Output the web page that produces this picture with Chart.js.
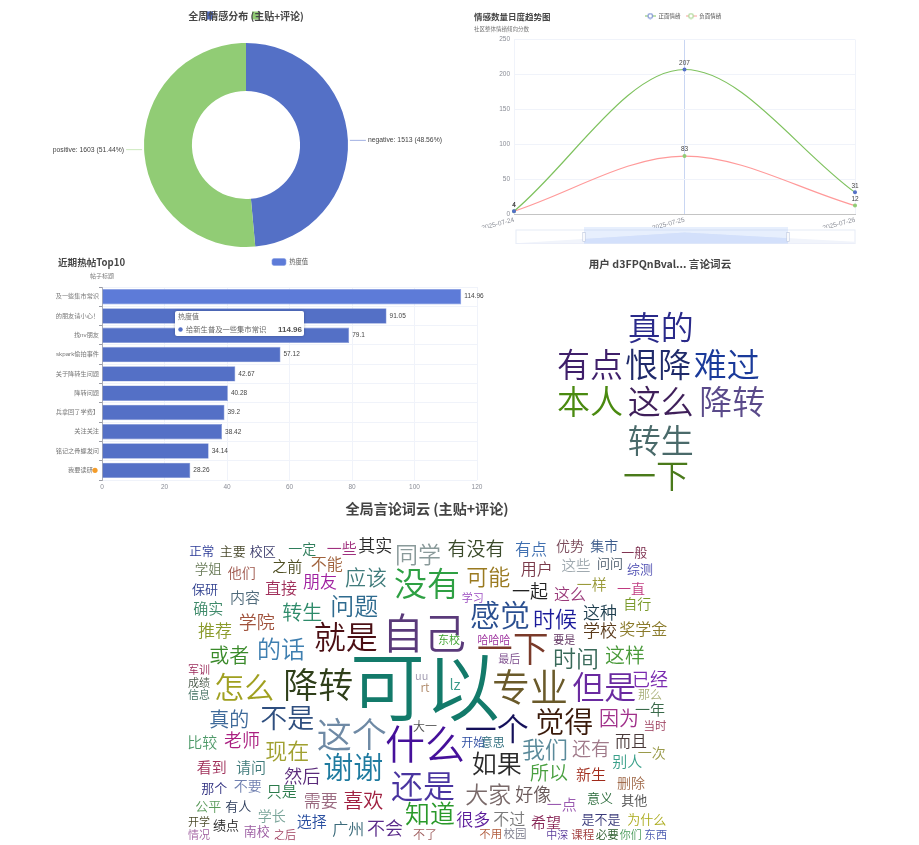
<!DOCTYPE html>
<html lang="zh">
<head>
<meta charset="utf-8">
<title>社区情感看板</title>
<script src="https://cdn.jsdelivr.net/npm/chart.js@4/dist/chart.umd.min.js"></script>
<style>
  html, body { margin: 0; padding: 0; background: #fff; width: 919px; height: 845px; overflow: hidden; }
  canvas { position: absolute; }
  .soft { filter: blur(0.5px); }
  .cloud { filter: blur(0.25px); }
</style>
</head>
<body>
<canvas id="pie" class="soft" width="400" height="258" style="left:46px;top:10px"></canvas>
<canvas id="trend" class="soft" width="418" height="247" style="left:474px;top:0"></canvas>
<canvas id="bars" class="soft" width="470" height="252" style="left:55px;top:243px"></canvas>
<canvas id="userCloud" class="cloud" width="260" height="242" style="left:530px;top:258px"></canvas>
<canvas id="globalCloud" class="cloud" width="526" height="345" style="left:164px;top:500px"></canvas>
<script>
const CJK = '"Noto Sans CJK SC", "Noto Sans", sans-serif';
const FONT = '"Liberation Sans", ' + CJK;
Chart.defaults.font.family = FONT;
Chart.defaults.animation = false;

// 情感分布
const sentimentNames = ['negative', 'positive'];
const sentimentCounts = [1513, 1603];
const sentimentPercents = ['48.56%', '51.44%'];

// 日度趋势
const trendDays = ['2025-07-24', '2025-07-25', '2025-07-26'];
const positiveDaily = [4, 207, 31];
const negativeDaily = [4, 83, 12];

// 热帖
const postTitles = ['给新生普及一些集市常识', '的朋友请小心！', '找nv朋友', 'skpark偷拍事件', '关于降转生问题', '降转问题', '兵拿回了学费】', '关注关注', '铭记之骨螺发问', '我要读研　'];
const postHeat = [114.96, 91.05, 79.1, 57.12, 42.67, 40.28, 39.2, 38.42, 34.14, 28.26];

// 用户词云
const userWords = ['真的', '有点', '恨降', '难过', '本人', '这么', '降转', '转生', '一下'];
const userWeights = [33, 33, 33, 33, 33, 33, 33, 33, 33];

// 全局词云
const globalWords = ['可以', '自己', '什么', '专业', '一下', '降转', '这个', '就是', '没有', '但是', '还是', '一个', '感觉', '怎么', '谢谢', '觉得', '不是', '知道', '如果', '问题', '的话', '同学', '时间', '我们', '大家', '现在', '时候', '可能', '应该', '或者', '转生', '真的', '因为', '这样', '喜欢', '有没有', '还有', '所以', '其实', '已经', '一起', '老师', '学院', '然后', '好像', '推荐', '需要', '朋友', '很多', '这种', '学校', '奖学金', '直接', '有点', '用户', '不过', '不能', '而且', '不会', '这么', '广州', '内容', '确实', '选择', '一样', '一点', '比较', '别人', '只是', '新生', '看到', '请问', '之前', '一定', '一些', '这些', '一年', '希望', '一次', '删除', '一直', '自行', '他们', 'lz', '学姐', '主要', '校区', '不要', '优势', '集市', '学长', '意义', '其他', '问问', '综测', '一般', '那个', '公平', '有人', '保研', '正常', '绩点', '南校', '是不是', '为什么', '开始', '意思', '那么', '当时', '不了', '大一', 'rt', 'uu', '军训', '成绩', '信息', '开学', '情况', '之后', '学习', '东校', '哈哈哈', '要是', '最后', '不用', '校园', '中深', '课程', '必要', '你们', '东西'];
const globalWeights = [75, 42, 40, 38, 36, 35, 35, 32, 33, 32, 32, 32, 30, 30, 30, 29, 27, 25, 25, 24, 24, 23, 23, 23, 23, 22, 22, 22, 21, 20, 20, 20, 20, 20, 20, 19, 19, 19, 17, 18, 18, 18, 18, 18, 18, 17, 17, 17, 17, 17, 17, 16, 16, 16, 16, 16, 16, 16, 18, 16, 16, 15, 15, 15, 15, 15, 15, 15, 15, 15, 15, 15, 15, 14, 15, 14.5, 15, 15, 14, 14, 14, 14, 14, 15, 13.5, 13, 13, 14, 14, 14, 14, 13, 13, 13, 13, 13, 13, 13, 13, 13, 12.5, 13, 13, 13, 13, 12, 12, 12, 11.5, 12, 12, 12, 11, 11, 11, 11, 11, 11, 11, 11, 11, 11, 11, 11, 11.5, 11.5, 11, 11.5, 11.5, 11, 11.5];

// 词云版面 (x, y 是页面坐标)
const userSpots = [[660.7, 329.3], [590, 366], [658.3, 366], [726.7, 366], [590, 403.3], [660.7, 403.3], [732.3, 403.3], [660.7, 441.7], [656, 476.7]];
const userInks = ['#2a2a8a', '#3f1f6a', '#1f2a6a', '#1a3a9a', '#4a8a10', '#3f1f5a', '#5a4a8a', '#4a6a6a', '#4a7a1a'];
const globalSpots = [[425, 690], [424, 635], [425, 746], [530, 688.3], [512.7, 650], [318.3, 686.7], [351.7, 736.7], [345.7, 638.3], [427, 585], [604.3, 688.3], [423, 787], [496.7, 730], [500, 616], [244.3, 688.3], [353.3, 768.3], [564.3, 723.3], [287.3, 719.3], [430, 815], [496.7, 765], [354.3, 607.3], [281, 650], [418, 555], [576, 659.3], [545, 750], [488.3, 795.7], [287.3, 751.7], [555, 619.3], [488.3, 577.3], [366, 577.7], [229.3, 656], [302.3, 613.3], [229.3, 720], [619, 719.3], [625, 656], [363.3, 801.7], [476, 549.3], [591, 750], [549, 773.3], [375.3, 546], [650, 680], [530, 591.7], [242, 740.7], [256.7, 622.7], [302.3, 776.7], [533.3, 795], [215, 631], [320.7, 801.7], [320, 582.3], [473.3, 820], [600, 613.3], [600, 631.7], [643.3, 629.3], [281, 588.3], [531, 549.3], [536.7, 570], [509.3, 820], [326.7, 564.3], [631, 741.7], [385, 829], [570, 595], [348.3, 830], [245, 598.3], [208.3, 609.3], [311.7, 822.3], [591.7, 585], [561.7, 805], [202.3, 743.3], [627.3, 762.3], [281.7, 792.3], [591, 775], [211.7, 768.3], [251, 768.3], [287.3, 567.3], [302.3, 549.3], [341.7, 549.3], [576, 566.7], [650, 710], [546, 822.7], [651.7, 753.3], [631, 783.3], [631, 589.3], [637.3, 604], [241.7, 573.3], [455, 685], [208.3, 570], [232.7, 551.7], [262.7, 551.7], [247.7, 786.7], [570, 546], [604.3, 546], [271.7, 816.7], [600, 798.3], [634.3, 800.7], [610, 563.3], [640, 569.3], [634.3, 552.7], [214.3, 788.3], [208.3, 806.7], [238.3, 806.7], [205, 589.3], [201.7, 551.7], [226, 825.7], [256.7, 831.7], [601, 819.3], [646.7, 819.3], [473.3, 743.3], [492.7, 743.3], [650, 695], [655, 725.7], [425, 835], [425, 726.7], [425, 688], [421.7, 676.7], [199, 670.7], [199, 683.3], [199, 695], [199, 822.7], [199, 835], [285, 835], [472.7, 598.3], [449, 640.7], [494, 640.7], [564.3, 640], [509.3, 659], [490.7, 834.3], [515, 834.3], [557.3, 835], [582.7, 835], [607.3, 835], [630.7, 835], [655.7, 835]];
const globalInks = ['#137a6a', '#5a3a7a', '#45109a', '#6a5a2a', '#7a3a2a', '#2f3f1a', '#6f8aa5', '#4b0f14', '#2ea043', '#6a2aa0', '#4a35a0', '#14105a', '#2a4f90', '#a0a020', '#1f7ba0', '#3a1a0a', '#2f4f7f', '#2a9a2a', '#2a2a2a', '#2f6b8f', '#3f7fb0', '#8a9a9a', '#3a6a5a', '#5a8a9a', '#7a6a6a', '#a0a030', '#1a1a9a', '#9a7a20', '#3f7b7b', '#3a8a2a', '#2e8b6a', '#3f6a9a', '#a0308a', '#4a9a3a', '#a02040', '#3a4a2a', '#a07a8a', '#4aa040', '#2b2b2b', '#7a2ab0', '#222222', '#aa1f80', '#a0523c', '#5a2a7a', '#6a5a5a', '#8a9a2a', '#9a6a80', '#a020a0', '#5a1a9a', '#1f3f4f', '#5a3a1a', '#8a7a2a', '#a02f5a', '#3f6fb0', '#7a3a4a', '#7a7a7a', '#a0623c', '#4a3a3a', '#5a2a8a', '#9a3a7a', '#3a6a7a', '#4f6a7a', '#3f8a6a', '#2a4fa0', '#9a9a3a', '#9a5ab0', '#4f9a6a', '#3aa08a', '#2a7a4a', '#a02a1a', '#a0305a', '#3f7a7a', '#4e4e22', '#2e7d5b', '#a0307e', '#a0aab0', '#3a6a4a', '#8a2a5a', '#9a9a4a', '#a06a4a', '#c03a80', '#7a9a2a', '#a0594e', '#3a9a8a', '#6b7c5a', '#4a4a2e', '#3b3b6b', '#7080b0', '#7a4a5a', '#3a5a8a', '#7aa59a', '#2a6a3a', '#4a4a4a', '#4a5a6a', '#4a4ab0', '#7a2a4a', '#303080', '#5a9a5a', '#2a3a5a', '#2f3f8f', '#2b3a96', '#222222', '#9a5aa0', '#3a3a7a', '#aaaa1a', '#2a4aa0', '#2a6a7a', '#aab07a', '#9a3a5a', '#a06060', '#555555', '#b08a6a', '#a09ab0', '#9a2a5a', '#4a5a4a', '#3a6a5a', '#4a4a2a', '#a060a0', '#a04060', '#9a4ac0', '#3aa02a', '#9a2a9a', '#5a2a5a', '#7a4a8a', '#b05a3a', '#7a7a8a', '#5a3a9a', '#a03a3a', '#2a5a2a', '#4a9a5a', '#4a5ab0'];

const BLUE = '#5470c6';
const GREEN = '#91cc75';
const GRID = '#f0f3fa';

function text(ctx, str, x, y, font, color, align, family) {
  ctx.font = font + ' ' + (family || FONT);
  ctx.fillStyle = color;
  ctx.textAlign = align || 'left';
  ctx.textBaseline = 'middle';
  ctx.fillText(str, x, y);
}

// move title, subtitle and legend out of the stacked layout, like the free positioned original
function nudge(spots) {
  return {
    id: 'nudge',
    afterLayout(chart) {
      if (spots.title && chart.titleBlock) {
        chart.titleBlock.left = spots.title[0];
        chart.titleBlock.top = spots.title[1];
      }
      if (spots.subtitle) {
        const sub = chart.boxes.find(b => b.options && b.options.text === spots.subtitle[2]);
        if (sub) { sub.left = spots.subtitle[0]; sub.top = spots.subtitle[1]; }
      }
      if (spots.legendTop !== undefined) {
        chart.legend.top = spots.legendTop;
        chart.legend.left = 0;
        chart.legend.right = chart.width;
      }
    }
  };
}

// doughnut -----------------------------------------------------------------
const sliceLabels = {
  id: 'sliceLabels',
  beforeDraw(chart) {
    // legend swatches sit under the title in the original
    const ctx = chart.ctx;
    ctx.fillStyle = BLUE;
    ctx.fillRect(161, 1.5, 6, 8);
    ctx.fillStyle = GREEN;
    ctx.fillRect(206, 1.5, 7, 8);
  },
  afterDatasetsDraw(chart) {
    const ctx = chart.ctx;
    chart.getDatasetMeta(0).data.forEach((arc, i) => {
      const mid = (arc.startAngle + arc.endAngle) / 2;
      const y = arc.y + Math.sin(mid) * arc.outerRadius;
      const side = Math.cos(mid) >= 0 ? 1 : -1;
      const x0 = arc.x + side * (Math.abs(Math.cos(mid)) * arc.outerRadius + 2);
      const x1 = x0 + side * 16;
      ctx.strokeStyle = i === 0 ? '#8a9cdb' : '#bfe3ad';
      ctx.lineWidth = 0.8;
      ctx.beginPath();
      ctx.moveTo(x0, y);
      ctx.lineTo(x1, y);
      ctx.stroke();
      const label = sentimentNames[i] + ': ' + sentimentCounts[i] + ' (' + sentimentPercents[i] + ')';
      text(ctx, label, x1 + side * 2, y, '6.8px', '#444', side > 0 ? 'left' : 'right');
    });
  }
};

new Chart(document.getElementById('pie'), {
  type: 'doughnut',
  data: {
    labels: sentimentNames,
    datasets: [{ data: sentimentCounts, backgroundColor: [BLUE, GREEN], borderWidth: 0 }]
  },
  options: {
    responsive: false,
    radius: 102,
    cutout: '53%',
    plugins: {
      legend: { display: false },
      tooltip: { enabled: false },
      title: { display: true, text: '全周情感分布 (主贴+评论)', color: '#464646', padding: 0, font: { family: CJK, size: 10, weight: 'bold' } }
    }
  },
  plugins: [sliceLabels]
});

// trend --------------------------------------------------------------------
function legendMark(line, dot) {
  const c = document.createElement('canvas');
  c.width = 11;
  c.height = 7;
  const g = c.getContext('2d');
  g.strokeStyle = line;
  g.lineWidth = 1;
  g.beginPath();
  g.moveTo(0, 3.5);
  g.lineTo(11, 3.5);
  g.stroke();
  g.fillStyle = '#fff';
  g.strokeStyle = dot;
  g.beginPath();
  g.arc(5.5, 3.5, 2.4, 0, Math.PI * 2);
  g.fill();
  g.stroke();
  return c;
}

const trendExtras = {
  id: 'trendExtras',
  afterDatasetsDraw(chart) {
    const ctx = chart.ctx;
    chart.data.datasets.forEach((ds, d) => {
      chart.getDatasetMeta(d).data.forEach((pt, i) => {
        text(ctx, String(ds.data[i]), pt.x, pt.y - 6.5, '6.5px', '#444', 'center');
      });
    });
    // data zoom slider under the axis
    const x = chart.scales.x;
    const top = 230, bottom = 243.5;
    const from = 584, to = 788;
    ctx.save();
    ctx.strokeStyle = '#e6ebf6';
    ctx.lineWidth = 1;
    ctx.strokeRect(x.left + 2, top, x.right - x.left - 2, bottom - top);
    const shadow = () => {
      ctx.beginPath();
      ctx.moveTo(x.left + 2, bottom);
      positiveDaily.forEach((v, i) => ctx.lineTo(Math.max(x.getPixelForValue(i), x.left + 2), bottom - v * 0.053));
      ctx.lineTo(x.right, bottom);
      ctx.closePath();
    };
    shadow();
    ctx.fillStyle = '#f1f4fb';
    ctx.fill();
    ctx.fillStyle = 'rgba(135,175,245,0.2)';
    ctx.fillRect(from - 474, 227, to - from, bottom - 227);
    ctx.beginPath();
    ctx.rect(from - 474, 227, to - from, bottom - 227);
    ctx.clip();
    shadow();
    ctx.fillStyle = '#d3e0fb';
    ctx.fill();
    ctx.restore();
    [from, to].forEach(h => {
      ctx.fillStyle = '#fff';
      ctx.strokeStyle = '#b9c4dc';
      ctx.lineWidth = 0.6;
      ctx.fillRect(h - 474 - 1.2, 232.5, 2.4, 9);
      ctx.strokeRect(h - 474 - 1.2, 232.5, 2.4, 9);
    });
  }
};

const marks = [legendMark('#7fc25f', BLUE), legendMark('#ff9a9a', GREEN)];

new Chart(document.getElementById('trend'), {
  type: 'line',
  data: {
    labels: trendDays,
    datasets: [
      { label: '正面情绪', data: positiveDaily, borderColor: '#7fc25f', backgroundColor: BLUE, pointBackgroundColor: BLUE, pointBorderColor: BLUE, borderWidth: 1.2, pointRadius: 1.4, cubicInterpolationMode: 'monotone' },
      { label: '负面情绪', data: negativeDaily, borderColor: '#ff9a9a', backgroundColor: GREEN, pointBackgroundColor: GREEN, pointBorderColor: GREEN, borderWidth: 1.2, pointRadius: 1.4, cubicInterpolationMode: 'monotone' }
    ]
  },
  options: {
    responsive: false,
    layout: { autoPadding: false, padding: { top: 2.2, right: 37, bottom: 19, left: 0 } },
    scales: {
      x: {
        afterFit(s) { s.height = 14; },
        grid: { color: c => (c.index === 1 ? '#c9d6f2' : GRID), drawTicks: false },
        border: { color: '#c4c4c4', width: 1 },
        ticks: { color: '#8a8d96', font: { size: 6.5 }, minRotation: 15, maxRotation: 15, padding: 2 }
      },
      y: {
        min: 0,
        max: 250,
        afterFit(s) { s.width = 40; },
        grid: { color: GRID, drawTicks: false },
        border: { display: false },
        ticks: { stepSize: 50, color: '#8a8d96', font: { size: 6.5 }, padding: 4 }
      }
    },
    plugins: {
      tooltip: { enabled: false },
      title: { display: true, align: 'start', text: '情感数量日度趋势图', color: '#464646', padding: 0, font: { family: CJK, size: 8.5, weight: 'bold' } },
      subtitle: { display: true, align: 'start', text: '社区整体情绪倾向分数', color: '#777', padding: 0, font: { size: 5.5 } },
      legend: {
        labels: {
          usePointStyle: true,
          pointStyleWidth: 11,
          padding: 5,
          color: '#555',
          font: { size: 5.5 },
          generateLabels: chart => chart.data.datasets.map((ds, i) => ({
            text: ds.label, pointStyle: marks[i], datasetIndex: i, fontColor: '#555', lineWidth: 0, strokeStyle: 'transparent'
          }))
        }
      }
    }
  },
  plugins: [nudge({ title: [0, 11.9], subtitle: [0, 25.7, '社区整体情绪倾向分数'], legendTop: 8.25 }), trendExtras]
});

// bars ---------------------------------------------------------------------
const barExtras = {
  id: 'barExtras',
  afterDatasetsDraw(chart) {
    const ctx = chart.ctx;
    chart.getDatasetMeta(0).data.forEach((bar, i) => {
      text(ctx, String(postHeat[i]), bar.x + 3, bar.y, '6.5px', '#444');
    });
    // emoji stand in after the last label
    const y = chart.getDatasetMeta(0).data[9].y;
    ctx.fillStyle = '#f39c2a';
    ctx.beginPath();
    ctx.arc(chart.scales.y.right - 7, y, 2.6, 0, Math.PI * 2);
    ctx.fill();
    // pinned tooltip
    const left = 120, top = 68, w = 129, h = 25;
    ctx.save();
    ctx.shadowColor = 'rgba(0,0,0,0.25)';
    ctx.shadowBlur = 3;
    ctx.fillStyle = '#fff';
    ctx.beginPath();
    ctx.roundRect(left, top, w, h, 2);
    ctx.fill();
    ctx.restore();
    text(ctx, '热度值', left + 3, top + 6.5, '7px', '#666');
    ctx.fillStyle = BLUE;
    ctx.beginPath();
    ctx.arc(left + 5.5, top + 18.5, 2.2, 0, Math.PI * 2);
    ctx.fill();
    text(ctx, postTitles[0], left + 11, top + 18.5, '7.3px', '#666');
    text(ctx, String(postHeat[0]), left + w - 2, top + 18.5, 'bold 8px', '#555', 'right');
  }
};

new Chart(document.getElementById('bars'), {
  type: 'bar',
  data: {
    labels: postTitles,
    datasets: [{
      label: '热度值',
      data: postHeat,
      backgroundColor: c => (c.dataIndex === 0 ? '#5d7bd8' : BLUE),
      borderColor: c => (c.dataIndex === 0 ? '#8ba2e6' : '#8398d8'),
      borderWidth: 0.6,
      barPercentage: 0.8,
      categoryPercentage: 1
    }]
  },
  options: {
    responsive: false,
    indexAxis: 'y',
    layout: { autoPadding: false, padding: { top: 3.3, right: 48, bottom: 3, left: 0 } },
    scales: {
      x: {
        min: 0,
        max: 120,
        afterFit(s) { s.height = 12; },
        grid: { color: GRID, drawTicks: false },
        border: { display: false },
        ticks: { stepSize: 20, color: '#8a8d96', font: { size: 6.5 }, padding: 3, maxRotation: 0 }
      },
      y: {
        afterFit(s) { s.width = 47; },
        grid: { color: GRID, tickColor: '#9a9ca5', tickLength: 3 },
        border: { color: '#9a9ca5', width: 0.8 },
        ticks: { color: '#777', font: { size: 6.2 }, padding: 0, autoSkip: false }
      }
    },
    plugins: {
      tooltip: { enabled: false },
      title: { display: true, align: 'start', text: '近期热帖Top10', color: '#464646', padding: 0, font: { family: CJK, size: 9.6, weight: 'bold' } },
      subtitle: { display: true, align: 'start', text: '帖子标题', color: '#777', padding: 0, font: { size: 6 } },
      legend: {
        labels: { boxWidth: 14, boxHeight: 7, padding: 5, useBorderRadius: true, borderRadius: 2, color: '#555', font: { size: 6.3 } }
      }
    }
  },
  plugins: [nudge({ title: [3, 13.2], subtitle: [35, 29.4, '帖子标题'], legendTop: 10.5 }), barExtras]
});

// word clouds --------------------------------------------------------------
function cloudPlugin(words, weights, inks) {
  return {
    id: 'cloudWords',
    afterDatasetsDraw(chart) {
      chart.getDatasetMeta(0).data.forEach((pt, i) => {
        // the middle baseline of this font sits a bit above the glyph centre
        text(chart.ctx, words[i], pt.x, pt.y - weights[i] * 0.05, '350 ' + weights[i] + 'px', inks[i], 'center', CJK);
      });
    }
  };
}

function cloudChart(id, titleText, titleSize, words, weights, spots, inks, left, top, areaTop) {
  const el = document.getElementById(id);
  new Chart(el, {
    type: 'scatter',
    data: { datasets: [{ data: spots.map(s => ({ x: s[0], y: s[1] })), pointRadius: 0 }] },
    options: {
      responsive: false,
      scales: {
        x: { display: false, min: left, max: left + el.width },
        y: { display: false, reverse: true, min: top + areaTop, max: top + el.height }
      },
      plugins: {
        legend: { display: false },
        tooltip: { enabled: false },
        title: { display: true, text: titleText, color: '#444', padding: 0, font: { family: CJK, size: titleSize, weight: 'bold' } }
      }
    },
    plugins: [cloudPlugin(words, weights, inks)]
  });
}

cloudChart('userCloud', '用户 d3FPQnBval... 言论词云', 10.6, userWords, userWeights, userSpots, userInks, 530, 258, 12.72);
cloudChart('globalCloud', '全局言论词云 (主贴+评论)', 14.1, globalWords, globalWeights, globalSpots, globalInks, 164, 500, 16.92);
</script>
</body>
</html>
